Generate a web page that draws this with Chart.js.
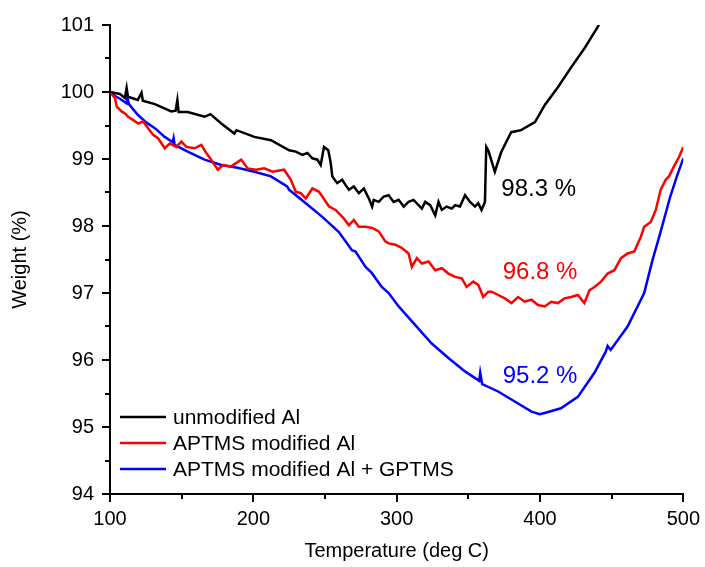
<!DOCTYPE html>
<html>
<head>
<meta charset="utf-8">
<script src="https://cdn.jsdelivr.net/npm/chart.js@4"></script>
<style>
  html, body { margin: 0; padding: 0; background: #fff; }
  #wrap { width: 705px; height: 567px; }
</style>
</head>
<body>
<div id="wrap"><canvas id="tga_canvas" width="705" height="567"></canvas></div>
<script>
// values
const seriesLabels = ['unmodified Al', 'APTMS modified Al', 'APTMS modified Al + GPTMS'];

const unmodTemp = [100, 106.9, 110.4, 111.6, 112.5, 119.4, 122.0, 122.9, 131.3, 142.8, 145.8, 147.0, 147.9, 154.2, 166.0, 170.1, 177.6, 186.8, 188.2, 200.7, 212.3, 225.0, 229.6, 234.2, 237.7, 241.2, 244.7, 247.0, 249.3, 252.3, 254.0, 255.1, 258.5, 262.0, 264.4, 266.7, 270.1, 273.6, 277.1, 280.6, 282.9, 284.0, 287.5, 291.0, 294.4, 297.9, 301.4, 304.9, 308.3, 311.8, 315.3, 317.6, 319.9, 323.4, 326.9, 329.2, 331.5, 334.9, 338.4, 340.8, 344.2, 347.7, 351.2, 354.7, 356.9, 359.2, 361.6, 362.5, 363.9, 368.5, 372.9, 379.9, 386.8, 396.5, 403.5, 412.5, 421.5, 431.3, 440.3, 441.7];
const unmodWeight = [100.0, 99.97, 99.91, 100.06, 99.93, 99.88, 99.99, 99.87, 99.82, 99.71, 99.72, 99.88, 99.70, 99.70, 99.63, 99.67, 99.53, 99.38, 99.43, 99.33, 99.28, 99.13, 99.11, 99.06, 99.09, 99.01, 98.99, 98.91, 99.18, 99.13, 98.94, 98.74, 98.64, 98.69, 98.61, 98.54, 98.59, 98.49, 98.56, 98.41, 98.29, 98.39, 98.36, 98.44, 98.46, 98.36, 98.39, 98.29, 98.36, 98.39, 98.31, 98.26, 98.36, 98.31, 98.16, 98.36, 98.24, 98.29, 98.26, 98.31, 98.29, 98.46, 98.36, 98.29, 98.34, 98.24, 98.36, 99.18, 99.13, 98.81, 99.10, 99.40, 99.43, 99.55, 99.81, 100.07, 100.36, 100.66, 100.97, 101.03];

const aptmsTemp = [100, 103.5, 104.7, 108.1, 110.4, 112.7, 116.2, 119.7, 123.1, 126.6, 130.1, 133.5, 138.2, 141.7, 146.3, 149.8, 153.3, 159.0, 163.7, 167.2, 170.6, 175.2, 178.7, 184.5, 191.5, 196.1, 201.9, 207.6, 213.4, 221.5, 226.2, 229.6, 233.1, 236.6, 241.2, 245.8, 248.1, 252.8, 257.4, 259.7, 263.2, 266.7, 270.1, 273.6, 278.3, 282.9, 287.5, 292.1, 294.4, 299.1, 303.7, 308.3, 310.6, 314.1, 317.6, 322.2, 326.9, 331.5, 336.1, 340.8, 345.4, 348.8, 353.5, 357.0, 360.4, 363.9, 366.2, 370.8, 375.5, 380.1, 384.7, 389.4, 394.0, 398.6, 403.3, 407.9, 412.5, 417.1, 421.7, 426.4, 431.0, 434.5, 438.0, 442.6, 447.2, 451.9, 456.5, 461.1, 465.8, 470.4, 472.7, 477.3, 480.8, 484.2, 487.7, 490.0, 493.5, 497.0, 500];
const aptmsWeight = [100.0, 99.91, 99.78, 99.71, 99.68, 99.63, 99.58, 99.53, 99.56, 99.46, 99.36, 99.31, 99.16, 99.23, 99.18, 99.26, 99.18, 99.16, 99.21, 99.09, 98.99, 98.84, 98.91, 98.89, 98.99, 98.86, 98.84, 98.86, 98.81, 98.84, 98.69, 98.51, 98.49, 98.41, 98.56, 98.51, 98.44, 98.29, 98.24, 98.19, 98.11, 98.01, 98.09, 97.99, 97.99, 97.97, 97.92, 97.77, 97.74, 97.72, 97.67, 97.59, 97.39, 97.52, 97.44, 97.47, 97.34, 97.37, 97.29, 97.24, 97.22, 97.09, 97.17, 97.12, 96.94, 97.02, 97.02, 96.97, 96.92, 96.85, 96.94, 96.87, 96.90, 96.82, 96.80, 96.87, 96.85, 96.92, 96.94, 96.97, 96.85, 97.04, 97.09, 97.17, 97.29, 97.34, 97.52, 97.59, 97.62, 97.84, 97.99, 98.06, 98.24, 98.54, 98.69, 98.74, 98.89, 99.03, 99.18];

const gptmsTemp = [100, 103.5, 106.9, 111.6, 112.2, 113.2, 119.4, 125.0, 131.3, 138.2, 143.8, 144.4, 145.1, 154.2, 166.0, 177.6, 188.9, 200.7, 212.3, 223.6, 225.0, 236.6, 247.9, 259.7, 268.8, 271.3, 278.3, 282.6, 289.6, 294.4, 301.4, 313.0, 324.3, 336.1, 347.7, 357.6, 358.3, 359.7, 370.8, 382.4, 394.1, 399.8, 403.3, 414.6, 426.4, 438.0, 445.8, 447.2, 449.3, 461.1, 472.7, 478.5, 484.0, 490.9, 495.8, 500];
const gptmsWeight = [100.0, 99.94, 99.90, 99.83, 99.91, 99.82, 99.66, 99.55, 99.46, 99.33, 99.25, 99.31, 99.21, 99.11, 98.99, 98.91, 98.87, 98.81, 98.74, 98.59, 98.54, 98.34, 98.14, 97.91, 97.64, 97.62, 97.39, 97.30, 97.09, 97.00, 96.80, 96.52, 96.25, 96.03, 95.83, 95.69, 95.81, 95.64, 95.53, 95.38, 95.23, 95.19, 95.21, 95.28, 95.45, 95.81, 96.12, 96.21, 96.15, 96.50, 97.00, 97.49, 97.90, 98.44, 98.76, 99.01];

const noteTexts = ['98.3 %', '96.8 %', '95.2 %'];
const noteTemp = [373, 374, 374];
const noteWeight = [98.54, 97.31, 95.76];

const colors = ['#000000', '#ff0000', '#0000ff'];

function pts(xs, ys) {
    return xs.map((x, i) => ({ x: x, y: ys[i] }));
}

// short minor ticks between the labelled ones, legend in the plot, percent notes
const extras = {
    id: 'extras',
    afterDraw(chart) {
        const ctx = chart.ctx;
        const xs = chart.scales.x, ys = chart.scales.y;
        const area = chart.chartArea;
        ctx.save();
        ctx.strokeStyle = '#000';
        ctx.lineWidth = 2;
        ctx.beginPath();
        for (let v = 150; v < 500; v += 100) {
            const px = Math.round(xs.getPixelForValue(v));
            ctx.moveTo(px, area.bottom);
            ctx.lineTo(px, area.bottom + 5);
        }
        for (let v = 94.5; v < 101; v += 1) {
            const py = Math.round(ys.getPixelForValue(v));
            ctx.moveTo(area.left, py);
            ctx.lineTo(area.left - 5, py);
        }
        ctx.stroke();

        ctx.font = '24px "Liberation Sans", Arial, sans-serif';
        ctx.textBaseline = 'middle';
        ctx.textAlign = 'left';
        noteTexts.forEach((t, i) => {
            ctx.fillStyle = colors[i];
            ctx.fillText(t, xs.getPixelForValue(noteTemp[i]), ys.getPixelForValue(noteWeight[i]));
        });

        ctx.font = '21px "Liberation Sans", Arial, sans-serif';
        chart.data.datasets.forEach((ds, i) => {
            const y = 417 + i * 26;
            ctx.strokeStyle = ds.borderColor;
            ctx.lineWidth = 2.5;
            ctx.beginPath();
            ctx.moveTo(120, y);
            ctx.lineTo(166, y);
            ctx.stroke();
            ctx.fillStyle = '#000';
            ctx.fillText(ds.label, 173, y + 1);
        });
        ctx.restore();
    }
};

const canvas = document.getElementById('tga_canvas');

new Chart(canvas, {
    type: 'line',
    data: {
        datasets: [
            { label: seriesLabels[0], data: pts(unmodTemp, unmodWeight), borderColor: colors[0] },
            { label: seriesLabels[1], data: pts(aptmsTemp, aptmsWeight), borderColor: colors[1] },
            { label: seriesLabels[2], data: pts(gptmsTemp, gptmsWeight), borderColor: colors[2] }
        ]
    },
    options: {
        responsive: false,
        animation: false,
        layout: { padding: { top: 25, right: 19, left: 0, bottom: 0 } },
        elements: {
            line: { borderWidth: 2.5, tension: 0 },
            point: { radius: 0 }
        },
        plugins: {
            legend: { display: false },
            tooltip: { enabled: false }
        },
        scales: {
            x: {
                type: 'linear',
                min: 100,
                max: 500,
                afterFit(scale) { scale.height = 73; },
                border: { display: true, color: '#000', width: 2 },
                grid: { drawOnChartArea: false, tickLength: 8, color: '#000', lineWidth: 2 },
                ticks: {
                    stepSize: 100,
                    padding: 5,
                    color: '#000',
                    font: { family: '"Liberation Sans", Arial, sans-serif', size: 20 }
                },
                title: {
                    display: true,
                    text: 'Temperature (deg C)',
                    color: '#000',
                    padding: { top: 4, bottom: 4 },
                    font: { family: '"Liberation Sans", Arial, sans-serif', size: 20 }
                }
            },
            y: {
                min: 94,
                max: 101,
                afterFit(scale) { scale.width = 110; },
                border: { display: true, color: '#000', width: 2 },
                grid: { drawOnChartArea: false, tickLength: 8, color: '#000', lineWidth: 2 },
                ticks: {
                    stepSize: 1,
                    padding: 8,
                    color: '#000',
                    font: { family: '"Liberation Sans", Arial, sans-serif', size: 20 }
                },
                title: {
                    display: true,
                    text: 'Weight (%)',
                    color: '#000',
                    padding: { top: 8, bottom: 4 },
                    font: { family: '"Liberation Sans", Arial, sans-serif', size: 20 }
                }
            }
        }
    },
    plugins: [extras]
});
</script>
</body>
</html>
